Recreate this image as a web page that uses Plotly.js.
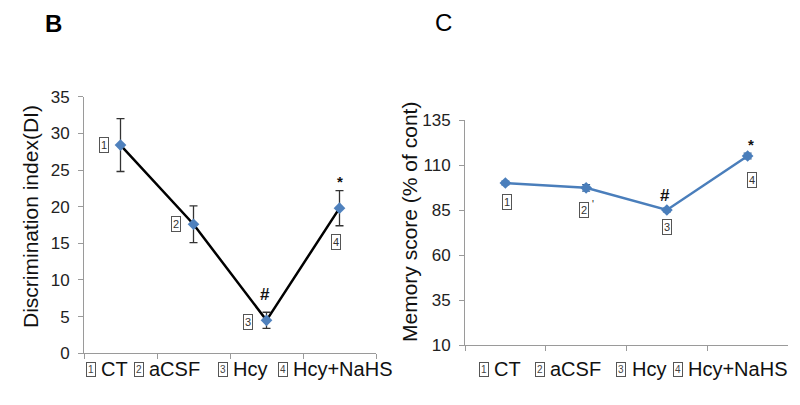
<!DOCTYPE html>
<html><head><meta charset="utf-8">
<script src="https://cdn.plot.ly/plotly-3.0.1.min.js"></script>
<style>html,body{margin:0;padding:0;background:#fff;}#chart{width:800px;height:405px;}</style>
</head><body><div id="chart"></div>
<script>
// ---- data ----
const categories = ["CT", "aCSF", "Hcy", "Hcy+NaHS"];
const groupNumbers = ["1", "2", "3", "4"];
// Panel B: Discrimination index (DI)
const diMean = [28.4, 17.6, 4.5, 19.8];
const diErr  = [3.6, 2.5, 1.1, 2.4];
// Panel C: Memory score (% of cont)
const memMean = [100, 97.3, 85, 115];
const memErr  = [1.0, 1.8, 1.0, 1.6];
// significance marks [group index, symbol]
const diMarks  = [[2, "#"], [3, "*"]];
const memMarks = [[2, "#"], [3, "*"]];

const FONT = "Liberation Sans, Arial, sans-serif";
const px = v => v / 800;
const py = v => (405 - v) / 405;

const traces = [
  {
    x: categories, y: diMean, type: "scatter", mode: "lines+markers",
    xaxis: "x", yaxis: "y",
    line: {color: "#000", width: 2.5},
    marker: {symbol: "diamond", size: 9, color: "#4F81BD"},
    error_y: {type: "data", array: diErr, visible: true, color: "#333", thickness: 1.3, width: 4},
    cliponaxis: false, hoverinfo: "skip"
  },
  {
    x: categories, y: memMean, type: "scatter", mode: "lines+markers",
    xaxis: "x2", yaxis: "y2",
    line: {color: "#4A7EBB", width: 2.5},
    marker: {symbol: "diamond", size: 9, color: "#4A7EBB"},
    error_y: {type: "data", array: memErr, visible: true, color: "#3A6699", thickness: 1.3, width: 4},
    cliponaxis: false, hoverinfo: "skip"
  }
];

const baseX = {
  type: "category", categoryorder: "array", categoryarray: categories,
  range: [-0.5, 3.5], showgrid: false, zeroline: false, showline: true,
  linecolor: "#9a9a9a", linewidth: 1, ticks: "outside", tickson: "boundaries",
  ticklen: 5, tickcolor: "#9a9a9a", showticklabels: false, fixedrange: true
};
const baseY = {
  showgrid: false, zeroline: false, showline: true, linecolor: "#9a9a9a", linewidth: 1,
  ticks: "outside", ticklen: 5, tickcolor: "#9a9a9a",
  tickfont: {family: FONT, size: 17, color: "#222"}, ticklabelstandoff: 5, fixedrange: true
};

const annotations = [];
function boxLabel(xref, yref, x, y, txt, xs, ys) {
  annotations.push({xref, yref, x, y, text: txt, showarrow: false, xshift: xs, yshift: ys,
    xanchor: "center", yanchor: "middle",
    font: {family: FONT, size: 11, color: "#333"}, bordercolor: "#555", borderwidth: 1,
    borderpad: 1});
}
function mark(xref, yref, x, y, txt, xs, ys, size) {
  annotations.push({xref, yref, x, y, text: txt, showarrow: false, xshift: xs, yshift: ys,
    xanchor: "center", yanchor: "middle",
    font: {family: FONT, size: size, color: "#111"}});
}
// Panel B point labels
const diShift = [[-17, 0], [-18, 0], [-19, -2], [-4, -34]];
categories.forEach((c, i) => boxLabel("x", "y", c, diMean[i], groupNumbers[i], diShift[i][0], diShift[i][1]));
mark("x", "y", categories[diMarks[0][0]], diMean[diMarks[0][0]], "<b>" + diMarks[0][1] + "</b>", -2, 26, 17);
mark("x", "y", categories[diMarks[1][0]], diMean[diMarks[1][0]], "<b>" + diMarks[1][1] + "</b>", 0, 27, 15);
// Panel C point labels
const memShift = [[2, -19], [-2, -22], [0, -17], [4, -24]];
categories.forEach((c, i) => boxLabel("x2", "y2", c, memMean[i], groupNumbers[i], memShift[i][0], memShift[i][1]));
mark("x2", "y2", categories[1], memMean[1], "'", 7, -17, 10);
mark("x2", "y2", categories[memMarks[0][0]], memMean[memMarks[0][0]], "<b>" + memMarks[0][1] + "</b>", -2, 15, 17);
mark("x2", "y2", categories[memMarks[1][0]], memMean[memMarks[1][0]], "<b>" + memMarks[1][1] + "</b>", 3, 12, 15);

// pseudo-legends below axes
function legendRow(boxX, textX, yPix) {
  categories.forEach((c, i) => {
    annotations.push({xref: "paper", yref: "paper", x: px(boxX[i]), y: py(yPix), text: groupNumbers[i],
      showarrow: false, xanchor: "center", yanchor: "middle",
      font: {family: FONT, size: 10, color: "#444"}, bordercolor: "#555",
      borderwidth: 1, borderpad: 1});
    annotations.push({xref: "paper", yref: "paper", x: px(textX[i]), y: py(yPix), text: c,
      showarrow: false, xanchor: "left", yanchor: "middle", font: {family: FONT, size: 20, color: "#111"}});
  });
}
legendRow([91, 139, 223, 283], [99, 147, 231, 291], 369);
legendRow([484, 540, 621, 678], [492, 548, 630, 686], 369);

// axis titles
annotations.push({xref: "paper", yref: "paper", x: px(30), y: py(217), text: "Discrimination index(DI)",
  textangle: -90, showarrow: false, xanchor: "center", yanchor: "middle",
  font: {family: FONT, size: 21, color: "#111"}});
annotations.push({xref: "paper", yref: "paper", x: px(409), y: py(222), text: "Memory score (% of cont)",
  textangle: -90, showarrow: false, xanchor: "center", yanchor: "middle",
  font: {family: FONT, size: 21, color: "#111"}});
// panel letters
annotations.push({xref: "paper", yref: "paper", x: px(53), y: py(23), text: "<b>B</b>",
  showarrow: false, xanchor: "center", yanchor: "middle", font: {family: FONT, size: 24, color: "#000"}});
annotations.push({xref: "paper", yref: "paper", x: px(443), y: py(22), text: "C",
  showarrow: false, xanchor: "center", yanchor: "middle", font: {family: FONT, size: 24, color: "#000"}});

const layout = {
  width: 800, height: 405, margin: {l: 0, r: 0, t: 0, b: 0},
  paper_bgcolor: "#fff", plot_bgcolor: "#fff", showlegend: false,
  xaxis: Object.assign({}, baseX, {domain: [px(84), px(376)], anchor: "y"}),
  yaxis: Object.assign({}, baseY, {domain: [py(353.3), py(96.7)], range: [0, 35], dtick: 5, tick0: 0, anchor: "x"}),
  xaxis2: Object.assign({}, baseX, {domain: [px(465), px(788)], anchor: "y2"}),
  yaxis2: Object.assign({}, baseY, {domain: [py(345), py(120)], range: [10, 135], dtick: 25, tick0: 10, anchor: "x2"}),
  annotations
};
Plotly.newPlot("chart", traces, layout, {staticPlot: true, displayModeBar: false});
</script></body></html>
